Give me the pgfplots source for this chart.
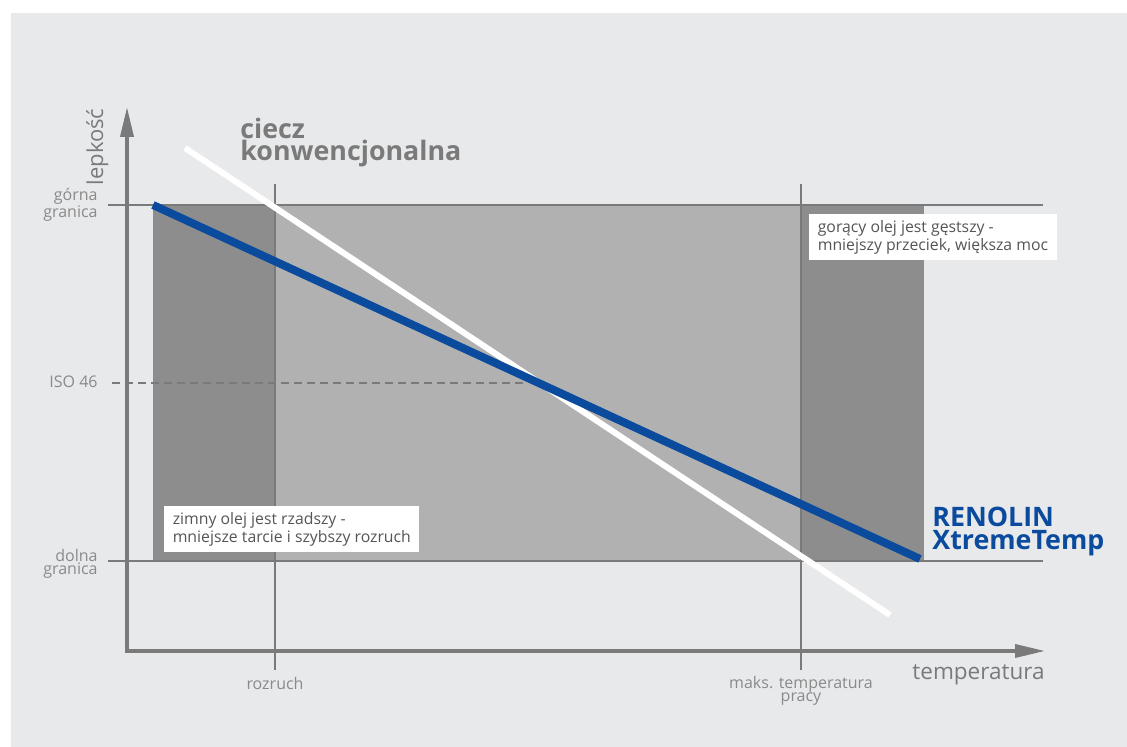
\documentclass[border=0pt]{standalone}
\usepackage{pgfplots}
\pgfplotsset{compat=1.18}
\usetikzlibrary{arrows.meta}
\usepackage{fontspec}
\setmainfont{Open Sans}

\definecolor{panel}{HTML}{E8E9EB}
\definecolor{darkband}{HTML}{8D8D8D}
\definecolor{midband}{HTML}{B1B1B1}
\definecolor{rule}{HTML}{7A7A7A}
\definecolor{ticktxt}{HTML}{8A8A8A}
\definecolor{boxtxt}{HTML}{555555}
\definecolor{renolin}{HTML}{0B4B9E}

\begin{document}
\begin{tikzpicture}
\begin{axis}[
    scale only axis,
    width=563.5pt, height=373.5pt,
    xmin=-127, xmax=1000,
    ymin=-96, ymax=651,
    hide axis,
    clip=false,
  ]
  % background and panel
  \addplot[fill=white, draw=none] coordinates {(-127,-96) (1000,-96) (1000,651) (-127,651)};
  \addplot[fill=panel, draw=none] coordinates {(-116,-96) (1000,-96) (1000,638) (-116,638)};

  % bands
  \addplot[fill=darkband, draw=none] coordinates {(26,90) (148,90) (148,446) (26,446)};
  \addplot[fill=midband, draw=none] coordinates {(148,90) (674,90) (674,446) (148,446)};
  \addplot[fill=darkband, draw=none] coordinates {(674,90) (797,90) (797,446) (674,446)};

  % limit lines and marker lines
  \addplot[rule, line width=1pt] coordinates {(-19,446) (916,446)};
  \addplot[rule, line width=1pt] coordinates {(-19,90) (916,90)};
  \addplot[rule, line width=1pt] coordinates {(148,467) (148,-19)};
  \addplot[rule, line width=1pt] coordinates {(674,467) (674,-19)};
  \addplot[rule, line width=1pt, dash pattern=on 4pt off 2.5pt] coordinates {(-15,268) (396,268)};

  % axes
  \addplot[rule, line width=1.8pt, -{Triangle[length=15pt,width=6.5pt]}] coordinates {(0,-2) (0,544)};
  \addplot[rule, line width=1.8pt, -{Triangle[length=15pt,width=6.5pt]}] coordinates {(-2,0) (918,0)};

  % viscosity lines
  \addplot[white, line width=3pt] coordinates {(58,503) (763,36)};
  \addplot[renolin, line width=4pt] coordinates {(26,446) (793,92)};

  % axis texts
  \node[rotate=90, anchor=base, text=rule, font=\fontsize{11}{12}\selectfont, inner sep=0pt] at (-24,504) {lepkość};
  \node[anchor=base east, text=rule, font=\fontsize{11.25}{12}\selectfont, inner sep=0pt] at (918,-29) {temperatura};

  \node[anchor=east, align=right, text=ticktxt, font=\fontsize{8}{6.4}\selectfont, inner sep=0pt] at (-29,446) {górna\\granica};
  \node[anchor=east, text=ticktxt, font=\fontsize{8}{6.4}\selectfont, inner sep=0pt] at (-29,269) {ISO 46};
  \node[anchor=east, align=right, text=ticktxt, font=\fontsize{8}{6.4}\selectfont, inner sep=0pt] at (-29,87) {dolna\\granica};
  \node[anchor=base, text=ticktxt, font=\fontsize{8}{6.4}\selectfont, inner sep=0pt] at (148,-39) {rozruch};
  \node[anchor=base, text=ticktxt, font=\fontsize{8}{6.4}\selectfont, inner sep=0pt] at (674,-38) {maks. temperatura};
  \node[anchor=base, text=ticktxt, font=\fontsize{8}{6.4}\selectfont, inner sep=0pt] at (674,-51) {pracy};

  % series labels
  \node[anchor=base west, text=rule, font=\bfseries\fontsize{13.4}{11}\selectfont, inner sep=0pt] at (113,512) {ciecz};
  \node[anchor=base west, text=rule, font=\bfseries\fontsize{13.4}{11}\selectfont, inner sep=0pt] at (113,490) {konwencjonalna};
  \node[anchor=base west, text=renolin, font=\bfseries\fontsize{13.4}{11}\selectfont, inner sep=0pt] at (805,124) {RENOLIN};
  \node[anchor=base west, text=renolin, font=\bfseries\fontsize{13.4}{11}\selectfont, inner sep=0pt] at (805,101) {XtremeTemp};

  % comment boxes
  \node[anchor=north west, fill=white, text=boxtxt, align=left,
        inner xsep=4.2pt, inner ysep=3pt, minimum height=22pt,
        font=\fontsize{7.9}{7.5}\selectfont] at (682,437)
        {gorący olej jest gęstszy -\\mniejszy przeciek, większa moc};
  \node[anchor=north west, fill=white, text=boxtxt, align=left,
        inner xsep=4.2pt, inner ysep=3pt, minimum height=22pt,
        font=\fontsize{7.9}{7.5}\selectfont] at (37,145)
        {zimny olej jest rzadszy -\\mniejsze tarcie i szybszy rozruch};
\end{axis}
\end{tikzpicture}
\end{document}
